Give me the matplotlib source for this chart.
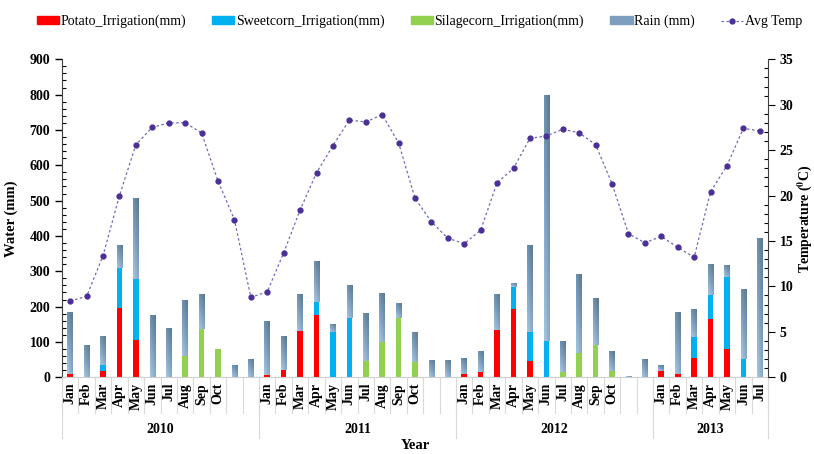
import numpy as np
import matplotlib.pyplot as plt
import matplotlib.transforms as mtransforms
from matplotlib.colors import LinearSegmentedColormap
from matplotlib.patches import Patch
from matplotlib.lines import Line2D

plt.rcParams['font.family'] = ['Liberation Serif', 'DejaVu Serif']
plt.rcParams['mathtext.fontset'] = 'stix'

years = ["2010", "2011", "2012", "2013"]
months_per_year = [12, 12, 12, 7]
month_names = ["Jan", "Feb", "Mar", "Apr", "May", "Jun", "Jul", "Aug", "Sep", "Oct", "", ""]

# monthly water inputs (mm), Jan 2010 - Jul 2013
potato = [8, 0, 17, 197, 106, 0, 0, 0, 0, 0, 0, 0,
          7, 21, 132, 177, 0, 0, 0, 0, 0, 0, 0, 0,
          10, 14, 134, 192, 45, 0, 0, 0, 0, 0, 0, 0,
          18, 8, 55, 164, 81, 0, 0]
sweetcorn = [0, 0, 17, 111, 171, 0, 0, 0, 0, 0, 0, 0,
             0, 0, 0, 35, 127, 167, 0, 0, 0, 0, 0, 0,
             0, 0, 0, 64, 83, 104, 0, 0, 0, 0, 0, 0,
             0, 0, 58, 69, 203, 51, 0]
silagecorn = [0, 0, 0, 0, 0, 0, 0, 61, 138, 80, 0, 0,
              0, 0, 0, 0, 0, 0, 46, 100, 168, 43, 0, 0,
              0, 0, 0, 0, 0, 0, 15, 68, 91, 18, 0, 0,
              0, 0, 0, 0, 0, 0, 0]
rain = [178, 91, 84, 67, 229, 175, 140, 158, 99, 0, 34, 51,
        151, 97, 105, 116, 23, 94, 136, 139, 41, 85, 49, 49,
        44, 61, 102, 12, 247, 696, 87, 224, 133, 56, 3, 52,
        16, 176, 81, 88, 34, 199, 395]
avg_temp = [8.4, 8.9, 13.4, 20.0, 25.6, 27.5, 28.0, 28.0, 26.9, 21.6, 17.35, 8.8,
            9.4, 13.7, 18.4, 22.5, 25.5, 28.3, 28.1, 28.9, 25.8, 19.7, 17.1, 15.3,
            14.7, 16.2, 21.4, 23.0, 26.3, 26.55, 27.3, 26.9, 25.6, 21.3, 15.8, 14.8,
            15.5, 14.3, 13.2, 20.4, 23.3, 27.4, 27.1]

n = len(rain)
x = np.arange(n)
labels = []
for k in months_per_year:
    labels += month_names[:k]

fig = plt.figure(figsize=(8.14, 4.54), dpi=100)
ax = fig.add_axes([0.0762, 0.169, 0.8673, 0.7005])

w = 0.34
p = np.array(potato)
s = np.array(sweetcorn)
g = np.array(silagecorn)
r = np.array(rain)
ax.bar(x, p, w, color='#ff0000', zorder=2)
ax.bar(x, s, w, bottom=p, color='#00b0f0', zorder=2)
ax.bar(x, g, w, bottom=p + s, color='#92d050', zorder=2)
rain_bars = ax.bar(x, r, w, bottom=p + s + g, color='#7d9fbf', zorder=2)

# shaded fill for rain bars
rain_cmap = LinearSegmentedColormap.from_list('rain', ['#a9c6e0', '#7a9cbc', '#58788f'])
yy = np.linspace(0, 1, 64)[:, None]
xx = np.linspace(0, 1, 16)[None, :]
grad = 0.65 * yy + 0.35 * xx
for bar in rain_bars:
    if bar.get_height() <= 0:
        continue
    x0, y0 = bar.get_x(), bar.get_y()
    im = ax.imshow(grad, extent=[x0, x0 + bar.get_width(), y0 + bar.get_height(), y0],
                   cmap=rain_cmap, aspect='auto', zorder=3, origin='upper')
    im.set_clip_path(bar)

ax.set_xlim(-0.5, n - 0.5)
ax.set_ylim(0, 900)
ax.set_yticks(np.arange(0, 901, 100))
ax.set_yticks(np.arange(0, 901, 20), minor=True)
ax.tick_params(axis='y', which='major', direction='out', length=5, width=1,
               labelsize=10)
ax.tick_params(axis='y', which='minor', direction='in', length=3, width=0.8)
for t in ax.get_yticklabels():
    t.set_fontweight('bold')
ax.set_ylabel("Water (mm)", fontsize=10.5, fontweight='bold', labelpad=8)

ax.set_xticks(x)
ax.set_xticklabels(labels, rotation=90, fontsize=10, fontweight='bold')
ax.tick_params(axis='x', which='major', length=0, pad=4)

ax.spines['top'].set_visible(False)
ax.spines['right'].set_visible(False)
ax.spines['bottom'].set_color('#d0d0d0')
ax.spines['left'].set_color('#404040')

# category separators below the axis
trans = mtransforms.blended_transform_factory(ax.transData, ax.transAxes)
for b in np.arange(n + 1) - 0.5:
    ax.plot([b, b], [0, -0.112], transform=trans, color='#d9d9d9', lw=0.8, clip_on=False)
bounds = np.concatenate([[0], np.cumsum(months_per_year)]) - 0.5
for b in bounds:
    ax.plot([b, b], [0, -0.19], transform=trans, color='#d9d9d9', lw=0.8, clip_on=False)
for i, yr in enumerate(years):
    ax.text((bounds[i] + bounds[i + 1]) / 2, -0.163, yr, transform=trans,
            ha='center', va='center', fontsize=10, fontweight='bold')
ax.text(0.5, -0.213, "Year", transform=ax.transAxes, ha='center', va='center',
        fontsize=10.5, fontweight='bold')

ax2 = ax.twinx()
ax2.plot(x, avg_temp, linestyle=(0, (2, 2)), color='#6b6bb5', lw=0.9,
         marker='o', markersize=3.5, markerfacecolor='#4a2f96', markeredgecolor='#4a2f96',
         zorder=4)
ax2.set_ylim(0, 35)
ax2.set_yticks(np.arange(0, 36, 5))
ax2.set_yticks(np.arange(0, 36, 1), minor=True)
ax2.tick_params(axis='y', which='major', direction='out', length=5, labelsize=10)
ax2.tick_params(axis='y', which='minor', direction='in', length=3, width=0.8)
for t in ax2.get_yticklabels():
    t.set_fontweight('bold')
ax2.set_ylabel(r"Temperature ($\mathbf{^{0}}$C)", fontsize=10, fontweight='bold', labelpad=1)
for side in ['top', 'left', 'bottom']:
    ax2.spines[side].set_visible(False)
ax2.spines['right'].set_color('#404040')

handles = [Patch(color='#ff0000'), Patch(color='#00b0f0'), Patch(color='#92d050'),
           Patch(color='#7d9fbf'),
           Line2D([], [], linestyle=(0, (2, 2)), color='#6b6bb5', lw=0.9, marker='o',
                  markersize=3.5, markerfacecolor='#4a2f96', markeredgecolor='#4a2f96')]
names = ["Potato_Irrigation(mm)", "Sweetcorn_Irrigation(mm)", "Silagecorn_Irrigation(mm)",
         "Rain (mm)", "Avg Temp"]
fig.legend(handles, names, loc='upper center', bbox_to_anchor=(0.515, 0.995), ncol=5,
           frameon=False, fontsize=10, handlelength=1.6, handleheight=0.5,
           handletextpad=0.1, columnspacing=1.9)

fig.savefig("out.png", dpi=100)
